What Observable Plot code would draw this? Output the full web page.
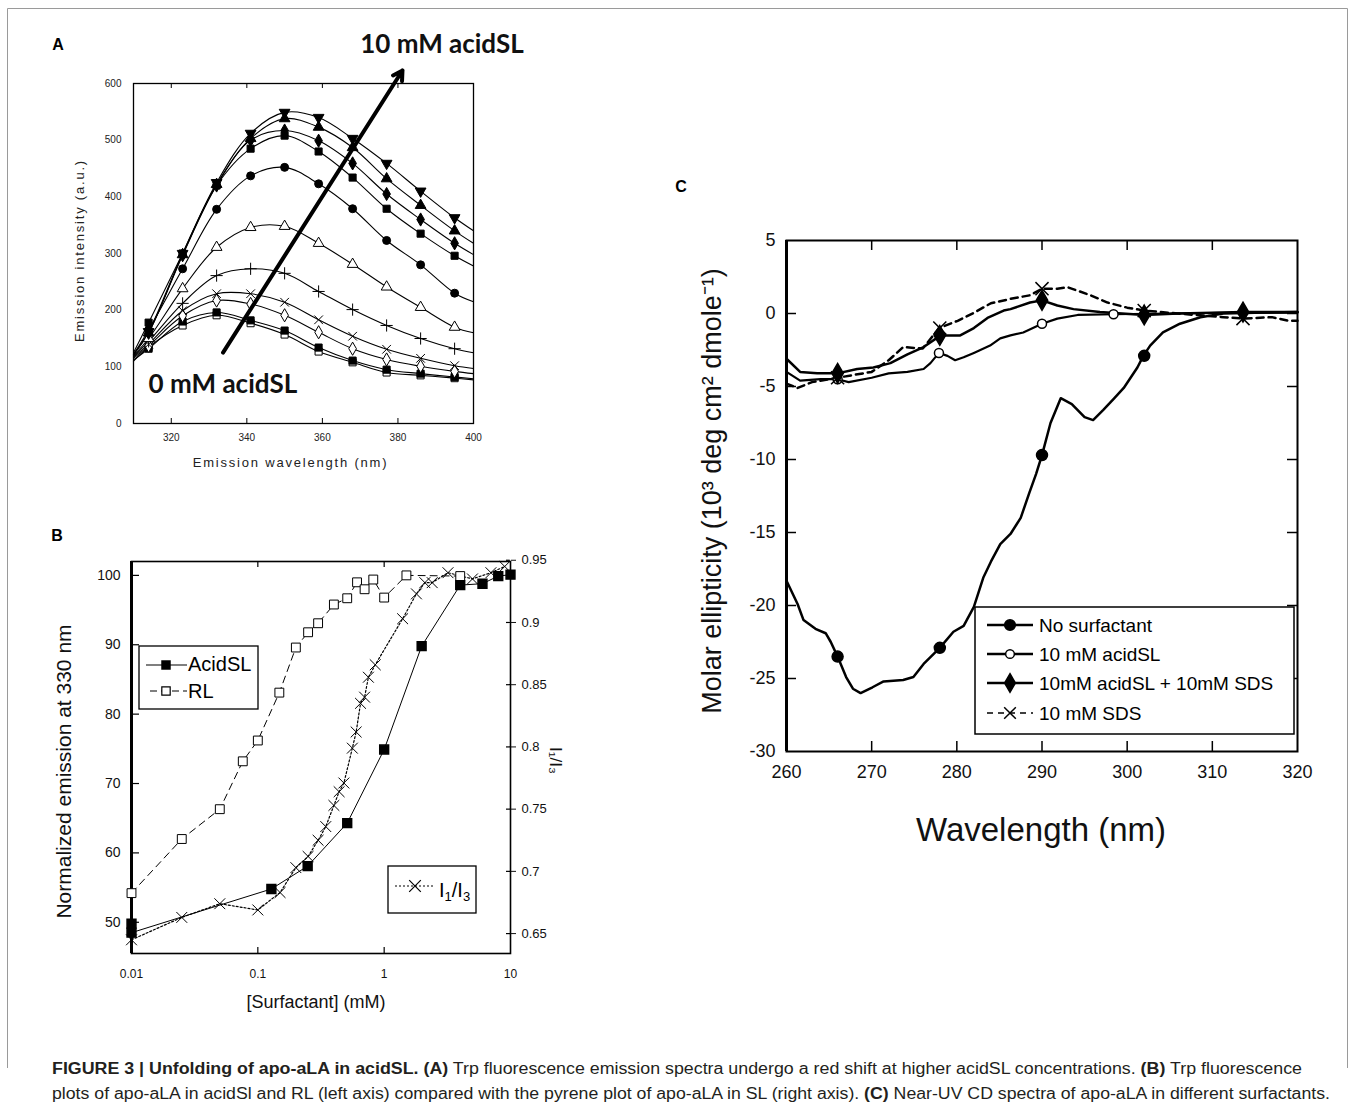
<!DOCTYPE html>
<html><head><meta charset="utf-8">
<script src="https://cdn.jsdelivr.net/npm/d3@7"></script>
<script src="https://cdn.jsdelivr.net/npm/@observablehq/plot@0.6"></script>
<style>
body{margin:0;background:#fff;width:1355px;height:1109px;position:relative;overflow:hidden;font-family:Arial,"Liberation Sans",sans-serif;}
.panel{position:absolute;}
.panel svg{overflow:visible;background:transparent;}
#overlay{position:absolute;left:0;top:0;pointer-events:none;}
.spaced text{letter-spacing:1.8px;}
</style></head><body>
<div id="panelA" class="panel" style="left:0;top:20px"></div>
<div id="panelB" class="panel" style="left:0;top:520px"></div>
<div id="panelC" class="panel" style="left:660px;top:200px"></div>
<svg id="overlay" width="1355" height="1109"></svg>
<script>
// ================= DATA =================
// Panel A: emission spectra (x = wavelength nm, y = intensity a.u.)
const aWavelength = [310, 314, 323, 332, 341, 350, 359, 368, 377, 386, 395, 400];
const aXTicks = [320, 340, 360, 380, 400];
const aYTicks = [0, 100, 200, 300, 400, 500, 600];
const aOpenSquare   = [110, 135, 173, 191, 177, 157, 127, 108, 90, 85, 80, 77];   // 0 mM
const aFilledSquareLow = [112, 132, 180, 196, 182, 164, 134, 111, 95, 88, 82, 79];
const aOpenDiamond  = [115, 137, 190, 217, 211, 191, 161, 132, 113, 101, 92, 88];
const aTimes        = [117, 140, 199, 229, 229, 214, 183, 154, 131, 115, 102, 97];
const aPlus         = [118, 145, 212, 261, 273, 265, 233, 201, 173, 150, 132, 125];
const aOpenTriangle = [120, 150, 238, 311, 346, 348, 318, 281, 241, 205, 170, 160];
const aFilledCircle = [122, 165, 273, 378, 437, 452, 423, 379, 323, 280, 230, 215];
const aFilledSquareHigh = [125, 178, 300, 420, 485, 508, 480, 434, 379, 335, 296, 278];
const aFilledDiamond = [122, 160, 297, 420, 500, 517, 499, 459, 405, 360, 318, 298];
const aFilledTriangle = [122, 160, 298, 422, 503, 538, 523, 487, 432, 385, 340, 318];
const aDownTriangle = [122, 162, 300, 425, 512, 549, 540, 503, 459, 410, 363, 340]; // 10 mM
const aArrow = [{x1: 333.7, y1: 125, x2: 381.2, y2: 623}];
const aLabels = [{x: 370, y: 669, text: "10 mM acidSL"}, {x: 314, y: 69, text: "0 mM acidSL"}];

// Panel B: normalized emission vs [surfactant] (log), right axis I1/I3
const bXTicks = [0.01, 0.1, 1, 10];
const bLeftTicks = [50, 60, 70, 80, 90, 100];
const bRightTicks = [0.65, 0.7, 0.75, 0.8, 0.85, 0.9, 0.95];
const bAcidConc = [0.01, 0.01, 0.128, 0.248, 0.51, 1, 1.98, 4, 6, 8, 10];
const bAcidEmission = [49.8, 48.5, 54.8, 58.1, 64.3, 74.9, 89.8, 98.6, 98.8, 99.9, 100.1];
const bRLConc = [0.01, 0.025, 0.05, 0.076, 0.1, 0.148, 0.2, 0.25, 0.3, 0.4, 0.51, 0.61, 0.7, 0.82, 1, 1.5, 4];
const bRLEmission = [54.2, 62, 66.3, 73.2, 76.2, 83.1, 89.6, 91.8, 93.1, 95.8, 96.7, 99.0, 98.0, 99.4, 96.8, 100, 99.9];
const bPyreneConc = [0.01, 0.025, 0.05, 0.1, 0.15, 0.2, 0.25, 0.3, 0.345, 0.4, 0.44, 0.48, 0.56, 0.6, 0.65, 0.7, 0.75, 0.85, 1.4, 1.8, 2.1, 2.4, 3.2, 5, 7, 9];
const bPyreneRatio = [0.645, 0.663, 0.674, 0.669, 0.683, 0.703, 0.712, 0.725, 0.736, 0.753, 0.764, 0.771, 0.799, 0.812, 0.835, 0.84, 0.856, 0.866, 0.903, 0.923, 0.932, 0.932, 0.94, 0.935, 0.94, 0.945];

// Panel C: near-UV CD spectra
const cXTicks = [260, 270, 280, 290, 300, 310, 320];
const cYTicks = [-30, -25, -20, -15, -10, -5, 0, 5];
const cNoSurfWl = [260, 261.3, 262, 263.4, 264.6, 265.2, 266, 267, 267.8, 268.7, 270.1, 271.4, 273.7, 274.9, 276.1, 278, 279.6, 280.8, 282, 283.1, 284, 285.1, 286.3, 287.5, 288.5, 289.3, 290, 291, 292.2, 293.5, 295, 296, 297.2, 298.5, 299.6, 301.2, 301.9, 302.7, 304.2, 306.2, 308.6, 311.3, 315, 320];
const cNoSurfEll = [-18.3, -19.9, -21.0, -21.6, -21.9, -22.5, -23.5, -24.9, -25.7, -26.0, -25.6, -25.2, -25.1, -24.9, -24.0, -22.9, -21.8, -21.4, -20.1, -18.1, -17.0, -15.8, -15.1, -14.0, -12.3, -11.0, -9.7, -7.5, -5.8, -6.2, -7.1, -7.3, -6.6, -5.8, -5.1, -3.7, -2.9, -2.2, -1.3, -0.7, -0.26, 0, 0.05, 0.1];
const cNoSurfMarkWl = [266, 278, 290, 302];
const cNoSurfMarkEll = [-23.5, -22.9, -9.7, -2.9];
const cAcidWl = [260, 261.6, 264, 266, 267.3, 270, 272, 274.2, 276.1, 276.9, 277.9, 278.9, 279.8, 280.8, 282, 283.9, 285.1, 286.3, 287.8, 290, 291.8, 294.2, 298.4, 305, 312, 320];
const cAcidEll = [-4.0, -4.6, -4.5, -4.5, -4.7, -4.4, -4.1, -4.0, -3.8, -3.4, -2.7, -2.9, -3.2, -3.0, -2.7, -2.2, -1.7, -1.5, -1.3, -0.7, -0.35, -0.1, -0.05, 0, 0.05, 0.05];
const cAcidMarkWl = [266, 277.9, 290, 298.4];
const cAcidMarkEll = [-4.5, -2.7, -0.7, -0.05];
const cMixWl = [260, 261.6, 263.6, 266, 268.3, 270.2, 272.2, 274.2, 276.1, 278.1, 280.4, 282, 283.6, 285.5, 286.3, 288.6, 290, 291.8, 293.7, 296.8, 302, 306, 310, 313.6, 317, 320];
const cMixEll = [-3.1, -4.0, -4.1, -4.1, -3.8, -3.7, -3.4, -2.8, -2.3, -1.5, -1.5, -1.0, -0.3, 0.2, 0.3, 0.75, 0.9, 0.55, 0.3, 0.1, -0.1, 0, 0.05, 0.1, 0.1, 0.1];
const cMixMarkWl = [266, 278, 290, 302, 313.6];
const cMixMarkEll = [-4.1, -1.5, 0.9, -0.1, 0.1];
const cSDSWl = [260, 261.3, 263, 266, 268, 270, 272, 273.7, 276, 277.9, 280.1, 282, 284, 286.3, 288.6, 290, 291.8, 293, 295.7, 297.7, 300, 302, 305.9, 311.3, 313.6, 317, 319, 320];
const cSDSEll = [-4.8, -5.1, -4.7, -4.4, -4.2, -4.0, -3.2, -2.3, -2.4, -1.0, -0.5, 0.05, 0.7, 1.0, 1.25, 1.7, 1.7, 1.8, 1.25, 0.75, 0.4, 0.2, 0, -0.25, -0.35, -0.25, -0.5, -0.5];
const cSDSMarkWl = [266, 278, 290, 302, 313.6];
const cSDSMarkEll = [-4.4, -1.0, 1.7, 0.2, -0.35];
const cLegend = ["No surfactant", "10 mM acidSL", "10mM acidSL + 10mM SDS", "10 mM SDS"];

// ================= HELPERS =================
const FONT = "Arial, 'Liberation Sans', sans-serif";
const sqrt3 = Math.sqrt(3);
const triangleDown = {
  draw(context, size) {
    const y = -Math.sqrt(size / (sqrt3 * 3));
    context.moveTo(0, -y * 2);
    context.lineTo(-sqrt3 * y, y);
    context.lineTo(sqrt3 * y, y);
    context.closePath();
  }
};
const rowsOf = (xs, ys) => xs.map((x, i) => ({x, y: ys[i]}));

// ================= PANEL A =================
{
  const curves = [aOpenSquare, aFilledSquareLow, aOpenDiamond, aTimes, aPlus, aOpenTriangle,
    aFilledCircle, aFilledSquareHigh, aFilledDiamond, aFilledTriangle, aDownTriangle];
  const styles = [
    {symbol: "square", fill: "white"}, {symbol: "square", fill: "black"},
    {symbol: "diamond", fill: "white"}, {symbol: "times", fill: "none"},
    {symbol: "plus", fill: "none"}, {symbol: "triangle", fill: "white"},
    {symbol: "circle", fill: "black"}, {symbol: "square", fill: "black"},
    {symbol: "diamond", fill: "black"}, {symbol: "triangle", fill: "black"},
    {symbol: triangleDown, fill: "black"}
  ];
  const rows = [];
  curves.forEach((vals, c) => vals.forEach((v, j) =>
    rows.push({wl: aWavelength[j], v, c, mark: j > 0 && j < vals.length - 1})));
  const W = 500, H = 460, mL = 133, mR = 27, mT = 63, mB = 57;
  const iH = H - mT - mB;
  const chart = Plot.plot({
    width: W, height: H, marginLeft: mL, marginRight: mR, marginTop: mT, marginBottom: mB,
    style: {fontFamily: FONT, fontSize: "10px", color: "#222", background: "transparent", overflow: "visible"},
    x: {domain: [310, 400], label: null},
    y: {domain: [0, 600], label: null},
    marks: [
      Plot.frame({stroke: "black", strokeWidth: 1.3}),
      Plot.tickX(aXTicks.slice(0, 4), {x: d => d, insetTop: iH - 5, stroke: "black"}),
      Plot.tickX(aXTicks.slice(0, 4), {x: d => d, insetBottom: iH - 5, stroke: "black"}),
      Plot.axisX({ticks: aXTicks, tickSize: 0, tickPadding: 10, fontSize: 10}),
      Plot.axisY({ticks: aYTicks, tickSize: 0, tickPadding: 12, fontSize: 10}),
      Plot.line(rows, {x: "wl", y: "v", z: "c", curve: "catmull-rom", stroke: "black", strokeWidth: 1.1}),
      ...styles.map((s, i) => Plot.dot(rows.filter(d => d.c === i && d.mark),
        {x: "wl", y: "v", symbol: s.symbol, r: 4, fill: s.fill, stroke: "black", strokeWidth: 1})),
      Plot.arrow(aArrow, {x1: "x1", y1: "y1", x2: "x2", y2: "y2", stroke: "black", strokeWidth: 4, headLength: 4, headAngle: 60}),
      Plot.text(aLabels, {x: "x", y: "y", text: "text", textAnchor: "start", lineAnchor: "middle",
        fontSize: 26, fontWeight: "bold", fontFamily: "Lato, 'Open Sans', sans-serif", fill: "#111"}),
      Plot.text(["Emission wavelength (nm)"], {frameAnchor: "bottom", text: d => d, dx: -13, dy: 39,
        textAnchor: "middle", lineAnchor: "middle", fontSize: 13, className: "spaced"}),
      Plot.text(["Emission intensity (a.u.)"], {frameAnchor: "left", text: d => d, rotate: -90, dx: -54, dy: -3,
        textAnchor: "middle", lineAnchor: "middle", fontSize: 13, className: "spaced"})
    ]
  });
  document.getElementById("panelA").append(chart);
}

// ================= PANEL B =================
{
  const leftDomain = [45.5, 102];
  const rightToLeft = d3.scaleLinear([0.634, 0.949], leftDomain);
  const W = 580, H = 500, mL = 131, mR = 70, mT = 41, mB = 67;
  const iW = W - mL - mR, iH = H - mT - mB;
  const acid = rowsOf(bAcidConc, bAcidEmission);
  const rl = rowsOf(bRLConc, bRLEmission);
  const pyr = bPyreneConc.map((x, i) => ({x, y: rightToLeft(bPyreneRatio[i])}));
  const rightMapped = bRightTicks.map(rightToLeft);
  const chart = Plot.plot({
    width: W, height: H, marginLeft: mL, marginRight: mR, marginTop: mT, marginBottom: mB,
    style: {fontFamily: FONT, fontSize: "13px", color: "#111", background: "transparent", overflow: "visible"},
    x: {type: "log", domain: [0.01, 10], label: null},
    y: {domain: leftDomain, label: null},
    marks: [
      Plot.frame({stroke: "black", strokeWidth: 1.6}),
      Plot.ruleX([0.01], {stroke: "black", strokeWidth: 3}),
      Plot.tickY(bLeftTicks, {y: d => d, insetRight: iW - 8, stroke: "black", strokeWidth: 1.2}),
      Plot.tickX([0.1, 1], {x: d => d, insetBottom: iH - 6, stroke: "black", strokeWidth: 1.2}),
      Plot.tickX([0.1, 1], {x: d => d, insetTop: iH - 6, stroke: "black", strokeWidth: 1.2}),
      Plot.tickY(rightMapped, {y: d => d, insetLeft: iW - 4, stroke: "black", strokeWidth: 1.2}),
      Plot.axisX({ticks: bXTicks, tickSize: 0, tickPadding: 16, fontSize: 12, tickFormat: d => String(d)}),
      Plot.axisY({ticks: bLeftTicks, tickSize: 0, tickPadding: 11, fontSize: 14}),
      Plot.axisY({anchor: "right", ticks: rightMapped, tickSize: 5, tickPadding: 6, fontSize: 13,
        tickFormat: d => String(Math.round(rightToLeft.invert(d) * 100) / 100)}),
      Plot.line(rl, {x: "x", y: "y", stroke: "black", strokeWidth: 1, strokeDasharray: "7,5"}),
      Plot.line(pyr, {x: "x", y: "y", stroke: "black", strokeWidth: 1.2, strokeDasharray: "2,2"}),
      Plot.line(acid, {x: "x", y: "y", stroke: "black", strokeWidth: 1}),
      Plot.dot(rl, {x: "x", y: "y", symbol: "square", r: 5, fill: "white", stroke: "black", strokeWidth: 1}),
      Plot.dot(pyr, {x: "x", y: "y", symbol: "times", r: 5, fill: "none", stroke: "black", strokeWidth: 1}),
      Plot.dot(acid, {x: "x", y: "y", symbol: "square", r: 5, fill: "black", stroke: "black"}),
      Plot.text(["Normalized emission at 330 nm"], {frameAnchor: "left", text: d => d, rotate: -90, dx: -67, dy: 14,
        textAnchor: "middle", lineAnchor: "middle", fontSize: 21}),
      Plot.text(["[Surfactant] (mM)"], {frameAnchor: "bottom", text: d => d, dx: -5, dy: 49,
        textAnchor: "middle", lineAnchor: "middle", fontSize: 18}),
      Plot.text(["I\u2081/I\u2083"], {frameAnchor: "right", text: d => d, rotate: 90, dx: 45, dy: 3,
        textAnchor: "middle", lineAnchor: "middle", fontSize: 17})
    ]
  });
  document.getElementById("panelB").append(chart);
}

// ================= PANEL C =================
{
  const W = 680, H = 660, mL = 126, mR = 43, mT = 40, mB = 109;
  const iW = W - mL - mR, iH = H - mT - mB;
  const inX = cXTicks.slice(1, -1), inY = cYTicks.slice(1, -1);
  const chart = Plot.plot({
    width: W, height: H, marginLeft: mL, marginRight: mR, marginTop: mT, marginBottom: mB,
    style: {fontFamily: FONT, fontSize: "18px", color: "#111", background: "transparent", overflow: "visible"},
    x: {domain: [260, 320], label: null},
    y: {domain: [-30, 5], label: null},
    marks: [
      Plot.frame({stroke: "black", strokeWidth: 2}),
      Plot.ruleX([260], {stroke: "black", strokeWidth: 3}),
      Plot.tickX(inX, {x: d => d, insetTop: iH - 10, stroke: "black", strokeWidth: 1.5}),
      Plot.tickX(inX, {x: d => d, insetBottom: iH - 10, stroke: "black", strokeWidth: 1.5}),
      Plot.tickY(inY, {y: d => d, insetRight: iW - 10, stroke: "black", strokeWidth: 1.5}),
      Plot.tickY(inY, {y: d => d, insetLeft: iW - 10, stroke: "black", strokeWidth: 1.5}),
      Plot.axisX({ticks: cXTicks, tickSize: 0, tickPadding: 14, fontSize: 18}),
      Plot.axisY({ticks: cYTicks, tickSize: 0, tickPadding: 11, fontSize: 18, tickFormat: d => String(d)}),
      Plot.line(rowsOf(cSDSWl, cSDSEll), {x: "x", y: "y", stroke: "black", strokeWidth: 2.5, strokeDasharray: "7,5"}),
      Plot.line(rowsOf(cAcidWl, cAcidEll), {x: "x", y: "y", stroke: "black", strokeWidth: 2.2}),
      Plot.line(rowsOf(cMixWl, cMixEll), {x: "x", y: "y", stroke: "black", strokeWidth: 2.5}),
      Plot.line(rowsOf(cNoSurfWl, cNoSurfEll), {x: "x", y: "y", stroke: "black", strokeWidth: 2.5}),
      Plot.dot(rowsOf(cAcidMarkWl, cAcidMarkEll), {x: "x", y: "y", r: 4.5, fill: "white", stroke: "black", strokeWidth: 1.5}),
      Plot.dot(rowsOf(cMixMarkWl, cMixMarkEll), {x: "x", y: "y", symbol: "diamond", r: 6, fill: "black", stroke: "black"}),
      Plot.dot(rowsOf(cSDSMarkWl, cSDSMarkEll), {x: "x", y: "y", symbol: "times", r: 6, fill: "none", stroke: "black", strokeWidth: 1.5}),
      Plot.dot(rowsOf(cNoSurfMarkWl, cNoSurfMarkEll), {x: "x", y: "y", r: 5.5, fill: "black", stroke: "black"}),
      Plot.text(["Wavelength (nm)"], {frameAnchor: "bottom", text: d => d, dx: -1, dy: 79,
        textAnchor: "middle", lineAnchor: "middle", fontSize: 33}),
      Plot.text(["Molar ellipticity (10\u00B3 deg cm\u00B2 dmole\u207B\u00B9)"], {frameAnchor: "left", text: d => d,
        rotate: -90, dx: -74, dy: -5, textAnchor: "middle", lineAnchor: "middle", fontSize: 27})
    ]
  });
  document.getElementById("panelC").append(chart);
}

// ================= OVERLAY: frame, panel letters, legends, caption =================
{
  const svg = d3.select("#overlay");
  svg.style("font-family", FONT);
  // outer figure border
  svg.append("path").attr("d", "M7.5,1068V8.5H1347.5V1068").attr("fill", "none").attr("stroke", "#9a9a9a").attr("stroke-width", 1);
  // panel letters
  [["A", 58, 50], ["B", 57, 541], ["C", 681, 192]].forEach(([t, x, y]) =>
    svg.append("text").attr("x", x).attr("y", y).attr("text-anchor", "middle")
      .attr("font-weight", "bold").attr("font-size", 16).text(t));

  const sym = (type, size) => d3.symbol(type, size)();

  // Panel B legend 1
  const g1 = svg.append("g");
  g1.append("rect").attr("x", 139).attr("y", 646).attr("width", 119).attr("height", 63)
    .attr("fill", "white").attr("stroke", "black").attr("stroke-width", 1.3);
  g1.append("line").attr("x1", 146).attr("x2", 187).attr("y1", 665).attr("y2", 665).attr("stroke", "black").attr("stroke-width", 1.2);
  g1.append("path").attr("d", sym(d3.symbolSquare, 90)).attr("transform", "translate(166,665)").attr("fill", "black");
  g1.append("text").attr("x", 188).attr("y", 671).attr("font-size", 20).text("AcidSL");
  g1.append("line").attr("x1", 150).attr("x2", 187).attr("y1", 691).attr("y2", 691).attr("stroke", "black")
    .attr("stroke-width", 1.2).attr("stroke-dasharray", "7,4");
  g1.append("path").attr("d", sym(d3.symbolSquare, 70)).attr("transform", "translate(166,691)")
    .attr("fill", "white").attr("stroke", "black").attr("stroke-width", 1.2);
  g1.append("text").attr("x", 188).attr("y", 698).attr("font-size", 20).text("RL");

  // Panel B legend 2
  const g2 = svg.append("g");
  g2.append("rect").attr("x", 388).attr("y", 866).attr("width", 88).attr("height", 47)
    .attr("fill", "white").attr("stroke", "black").attr("stroke-width", 1.3);
  g2.append("line").attr("x1", 395).attr("x2", 435).attr("y1", 886).attr("y2", 886).attr("stroke", "black")
    .attr("stroke-width", 1.2).attr("stroke-dasharray", "2,2");
  g2.append("path").attr("d", sym(d3.symbolTimes, 90)).attr("transform", "translate(415,886)")
    .attr("fill", "none").attr("stroke", "black").attr("stroke-width", 1.2);
  const t2 = g2.append("text").attr("x", 439).attr("y", 897).attr("font-size", 20);
  t2.append("tspan").text("I");
  t2.append("tspan").attr("font-size", 13).attr("dy", 4).text("1");
  t2.append("tspan").attr("dy", -4).text("/I");
  t2.append("tspan").attr("font-size", 13).attr("dy", 4).text("3");

  // Panel C legend
  const g3 = svg.append("g");
  g3.append("rect").attr("x", 975).attr("y", 607).attr("width", 319).attr("height", 127)
    .attr("fill", "white").attr("stroke", "black").attr("stroke-width", 1.5);
  const rowsY = [625, 654, 683, 713];
  const legendSym = [
    {t: d3.symbolCircle, s: 90, fill: "black"},
    {t: d3.symbolCircle, s: 60, fill: "white"},
    {t: d3.symbolDiamond, s: 100, fill: "black"},
    {t: d3.symbolTimes, s: 90, fill: "none"}
  ];
  cLegend.forEach((label, i) => {
    const y = rowsY[i];
    const ln = g3.append("line").attr("x1", 987).attr("x2", 1033).attr("y1", y).attr("y2", y)
      .attr("stroke", "black").attr("stroke-width", i === 3 ? 1.6 : 2.5);
    if (i === 3) ln.attr("stroke-dasharray", "6,5");
    g3.append("path").attr("d", sym(legendSym[i].t, legendSym[i].s)).attr("transform", `translate(1010,${y})`)
      .attr("fill", legendSym[i].fill).attr("stroke", "black").attr("stroke-width", 1.5);
    g3.append("text").attr("x", 1039).attr("y", y + 7).attr("font-size", 19).text(label);
  });

  // Caption
  const cap = svg.append("g").attr("fill", "#231f20").attr("font-size", 16)
    .style("font-family", "'Liberation Sans Narrow', 'Liberation Sans', Arial, sans-serif");
  const line1 = cap.append("text").attr("x", 52).attr("y", 1074).attr("textLength", 1250)
    .attr("lengthAdjust", "spacingAndGlyphs").style("white-space", "pre");
  [["FIGURE 3 | Unfolding of apo-aLA in acidSL. (A)", true],
   [" Trp fluorescence emission spectra undergo a red shift at higher acidSL concentrations. ", false],
   ["(B)", true], [" Trp fluorescence", false]].forEach(([t, b]) =>
    line1.append("tspan").attr("font-weight", b ? "bold" : "normal").text(t));
  const line2 = cap.append("text").attr("x", 52).attr("y", 1099).attr("textLength", 1278)
    .attr("lengthAdjust", "spacingAndGlyphs").style("white-space", "pre");
  [["plots of apo-aLA in acidSl and RL (left axis) compared with the pyrene plot of apo-aLA in SL (right axis). ", false],
   ["(C)", true], [" Near-UV CD spectra of apo-aLA in different surfactants.", false]].forEach(([t, b]) =>
    line2.append("tspan").attr("font-weight", b ? "bold" : "normal").text(t));
}
</script>
</body></html>
